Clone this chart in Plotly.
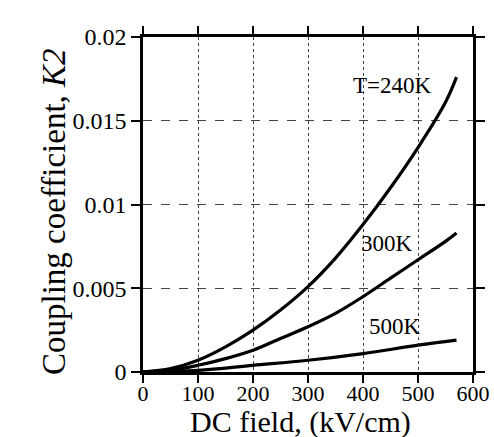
import plotly.graph_objects as go

field_240 = [0, 50, 100, 150, 200, 250, 300, 350, 400, 450, 500, 550, 570]
k2_240 = [0, 0.0002, 0.0007, 0.0015, 0.0025, 0.0037, 0.0051, 0.0068, 0.0088, 0.011, 0.0134, 0.0161, 0.0176]

field_300 = [0, 50, 100, 150, 200, 250, 300, 350, 400, 450, 500, 550, 570]
k2_300 = [0, 0.0001, 0.0004, 0.0008, 0.0013, 0.002, 0.0027, 0.0035, 0.0045, 0.0056, 0.0067, 0.0078, 0.0083]

field_500 = [0, 100, 200, 300, 400, 500, 570]
k2_500 = [0, 0.0001, 0.0004, 0.0007, 0.0011, 0.0016, 0.0019]

labels = ["T=240K", "300K", "500K"]
label_x = [453, 443, 458]
label_y = [0.0171, 0.0077, 0.0027]

x_ticks = [0, 100, 200, 300, 400, 500, 600]
y_ticks = [0, 0.005, 0.01, 0.015, 0.02]
y_ticktext = ["0", "0.005", "0.01", "0.015", "0.02"]

FONT = "Liberation Serif, Times New Roman, serif"

fig = go.Figure()
for xs, ys in [(field_240, k2_240), (field_300, k2_300), (field_500, k2_500)]:
    fig.add_trace(go.Scatter(x=xs, y=ys, mode="lines", line=dict(color="black", width=3.2, shape="spline"),
                             showlegend=False, hoverinfo="skip"))

for t, x, y in zip(labels, label_x, label_y):
    fig.add_annotation(x=x, y=y, text=t, showarrow=False, font=dict(family=FONT, size=23, color="black"))

fig.add_annotation(xref="paper", yref="paper", x=(300 - 143) / 330, y=(372 - 422) / 335,
                   xanchor="center", yanchor="middle", text="DC field, (kV/cm)",
                   showarrow=False, font=dict(family=FONT, size=30, color="black"))
fig.add_annotation(xref="paper", yref="paper", x=(54 - 143) / 330, y=(372 - 212) / 335,
                   xanchor="center", yanchor="middle", text="Coupling coefficient, <i>K2</i>",
                   showarrow=False, textangle=-90, font=dict(family=FONT, size=33, color="black"))

fig.update_layout(
    width=494, height=437,
    margin=dict(l=143, r=21, t=37, b=65, autoexpand=False),
    paper_bgcolor="white", plot_bgcolor="white",
    font=dict(family=FONT, color="black"),
)
fig.update_xaxes(
    range=[0, 600], tickvals=x_ticks, ticks="outside", ticklen=8, tickwidth=2, tickcolor="black",
    showline=True, linewidth=2.5, linecolor="black", mirror="allticks",
    showgrid=True, gridcolor="#444", griddash="dot", gridwidth=1.2,
    tickfont=dict(family=FONT, size=22), zeroline=False, automargin=False,
    ticklabelstandoff=-8,
)
fig.update_yaxes(
    range=[0, 0.02], tickvals=y_ticks, ticktext=y_ticktext, ticks="outside", ticklen=9, tickwidth=2, tickcolor="black",
    showline=True, linewidth=2.5, linecolor="black", mirror="allticks",
    showgrid=True, gridcolor="#444", griddash="dash", gridwidth=1.2,
    tickfont=dict(family=FONT, size=24), zeroline=False, automargin=False,
)

fig.write_html("out.html")
